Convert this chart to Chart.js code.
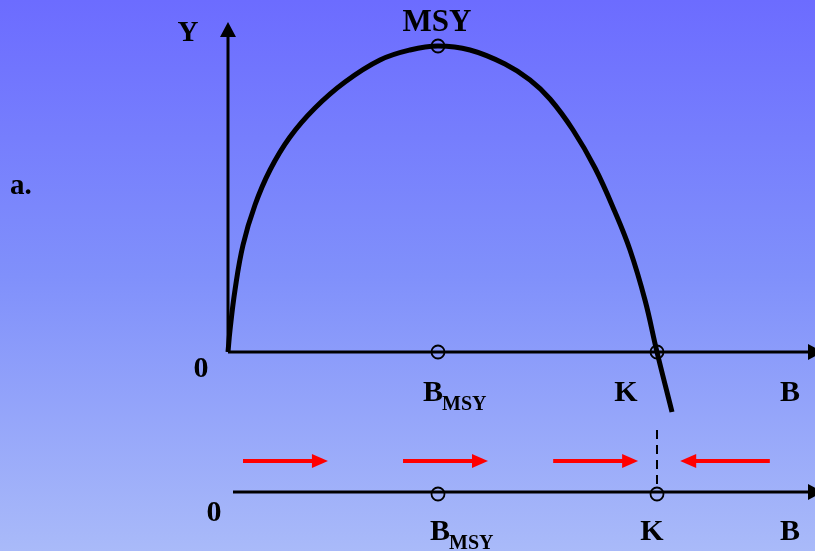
<!DOCTYPE html>
<html>
<head>
<meta charset="utf-8">
<script src="https://cdn.jsdelivr.net/npm/chart.js@4.4.1/dist/chart.umd.min.js"></script>
<style>
  html, body { margin: 0; padding: 0; }
  body {
    width: 815px; height: 551px; overflow: hidden;
    background: linear-gradient(to bottom, #6c6cff 0%, #8090fb 50%, #a9baf9 100%);
  }
  canvas { display: block; }
</style>
</head>
<body>
<canvas id="msyChart" width="815" height="551"></canvas>
<script>
// biomass (B, K = 100) and surplus yield (Y, MSY = 100)
const biomass = [0, 0.47, 1.63, 3.5, 6.29, 9.79, 14.45, 20.28, 27.27, 35.43, 42.42, 48.95, 56.41, 64.57, 70.4, 75.06, 80.42, 85.55, 90.21, 93.71, 97.2, 100, 103.5];
const yieldY  = [0, 7.19, 20.26, 34.97, 48.04, 59.48, 70.26, 79.74, 88.24, 95.42, 98.69, 100, 98.69, 94.12, 88.89, 82.68, 72.55, 60.13, 45.75, 33.33, 16.99, 0, -19.61];

const bMsy = 48.95;
const kValue = 100;
const msyValue = 100;

// stability arrows on the lower B axis (from -> to)
const arrowFrom = [3.5, 40.8, 75.8, 126.3];
const arrowTo   = [23.3, 60.6, 95.6, 105.4];

const xTickLabels = ['0', 'B', 'K', 'B'];
const numberLineY = -45.75;

const serif = '"Liberation Serif", "Times New Roman", serif';

function arrowHead(ctx, x, y, dir, len, half) {
    ctx.beginPath();
    ctx.moveTo(x, y);
    if (dir === 'up') {
        ctx.lineTo(x - half, y + len);
        ctx.lineTo(x + half, y + len);
    } else if (dir === 'right') {
        ctx.lineTo(x - len, y - half);
        ctx.lineTo(x - len, y + half);
    } else {
        ctx.lineTo(x + len, y - half);
        ctx.lineTo(x + len, y + half);
    }
    ctx.closePath();
    ctx.fill();
}

function subLabel(ctx, x, y, main, sub) {
    ctx.textAlign = 'left';
    ctx.font = 'bold 30px ' + serif;
    const w = ctx.measureText(main).width;
    ctx.fillText(main, x, y);
    ctx.font = 'bold 20px ' + serif;
    ctx.fillText(sub, x + w - 1, y + 9);
}

const axesPlugin = {
    id: 'axesPlugin',
    beforeDatasetsDraw(chart) {
        const ctx = chart.ctx;
        const xs = chart.scales.x, ys = chart.scales.y;
        const x0 = xs.getPixelForValue(0), y0 = ys.getPixelForValue(0);
        const yLow = ys.getPixelForValue(numberLineY);
        ctx.save();
        ctx.strokeStyle = '#000';
        ctx.fillStyle = '#000';
        ctx.lineWidth = 3;
        // Y axis
        ctx.beginPath();
        ctx.moveTo(x0, y0);
        ctx.lineTo(x0, 34);
        ctx.stroke();
        arrowHead(ctx, x0, 22, 'up', 15, 8);
        // B axis
        ctx.beginPath();
        ctx.moveTo(x0, y0);
        ctx.lineTo(812, y0);
        ctx.stroke();
        arrowHead(ctx, 823, y0, 'right', 15, 8);
        // lower number line
        ctx.beginPath();
        ctx.moveTo(x0 + 5, yLow);
        ctx.lineTo(812, yLow);
        ctx.stroke();
        arrowHead(ctx, 823, yLow, 'right', 15, 8);
        ctx.restore();
    },
    afterDatasetsDraw(chart) {
        const ctx = chart.ctx;
        const xs = chart.scales.x, ys = chart.scales.y;
        const y0 = ys.getPixelForValue(0);
        const yLow = ys.getPixelForValue(numberLineY);
        const xB = xs.getPixelForValue(bMsy), xK = xs.getPixelForValue(kValue);
        const yTop = ys.getPixelForValue(msyValue);
        ctx.save();
        // open markers
        ctx.strokeStyle = '#000';
        ctx.lineWidth = 1.8;
        [[xB, yTop], [xB, y0], [xK, y0], [xB, yLow + 2], [xK, yLow + 2]].forEach(p => {
            ctx.beginPath();
            ctx.arc(p[0], p[1], 6.5, 0, Math.PI * 2);
            ctx.stroke();
        });
        // dashed line at K
        ctx.lineWidth = 2;
        ctx.setLineDash([9, 6]);
        ctx.beginPath();
        ctx.moveTo(xK, 430);
        ctx.lineTo(xK, yLow - 6);
        ctx.stroke();
        ctx.setLineDash([]);
        // red arrows
        ctx.strokeStyle = '#ff0000';
        ctx.fillStyle = '#ff0000';
        ctx.lineWidth = 4;
        const ay = yLow - 31;
        for (let i = 0; i < arrowFrom.length; i++) {
            const a = xs.getPixelForValue(arrowFrom[i]);
            const b = xs.getPixelForValue(arrowTo[i]);
            const dir = b > a ? 'right' : 'left';
            ctx.beginPath();
            ctx.moveTo(a, ay);
            ctx.lineTo(dir === 'right' ? b - 10 : b + 10, ay);
            ctx.stroke();
            arrowHead(ctx, b, ay, dir, 16, 7);
        }
        // labels
        ctx.fillStyle = '#000';
        ctx.textBaseline = 'alphabetic';
        ctx.textAlign = 'center';
        ctx.font = 'bold 31px ' + serif;
        ctx.fillText('MSY', xB - 1, 31);
        ctx.font = 'bold 29px ' + serif;
        ctx.fillText('Y', 188, 41);
        ctx.textAlign = 'left';
        ctx.fillText('a.', 10, 194);
        ctx.textAlign = 'center';
        ctx.font = 'bold 30px ' + serif;
        ctx.fillText(xTickLabels[0], 201, 377);
        ctx.fillText(xTickLabels[2], 626, 401);
        ctx.fillText(xTickLabels[3], 790, 401);
        subLabel(ctx, 423, 401, xTickLabels[1], 'MSY');
        ctx.textAlign = 'center';
        ctx.font = 'bold 30px ' + serif;
        ctx.fillText(xTickLabels[0], 214, 521);
        ctx.fillText(xTickLabels[2], 652, 540);
        ctx.fillText(xTickLabels[3], 790, 540);
        subLabel(ctx, 430, 540, xTickLabels[1], 'MSY');
        ctx.restore();
    }
};

const pts = biomass.map((b, i) => ({ x: b, y: yieldY[i] }));

new Chart(document.getElementById('msyChart').getContext('2d'), {
    type: 'scatter',
    data: {
        datasets: [{
            data: pts,
            showLine: true,
            borderColor: '#000',
            borderWidth: 5,
            pointRadius: 0,
            tension: 0.4,
            clip: false
        }]
    },
    options: {
        responsive: false,
        animation: false,
        devicePixelRatio: 1,
        layout: { padding: { left: 228, right: 0, top: 46, bottom: 137.8 } },
        scales: {
            x: { type: 'linear', min: 0, max: 136.83, display: false },
            y: { type: 'linear', min: -20, max: 100, display: false }
        },
        plugins: { legend: { display: false }, tooltip: { enabled: false } }
    },
    plugins: [axesPlugin]
});
</script>
</body>
</html>
